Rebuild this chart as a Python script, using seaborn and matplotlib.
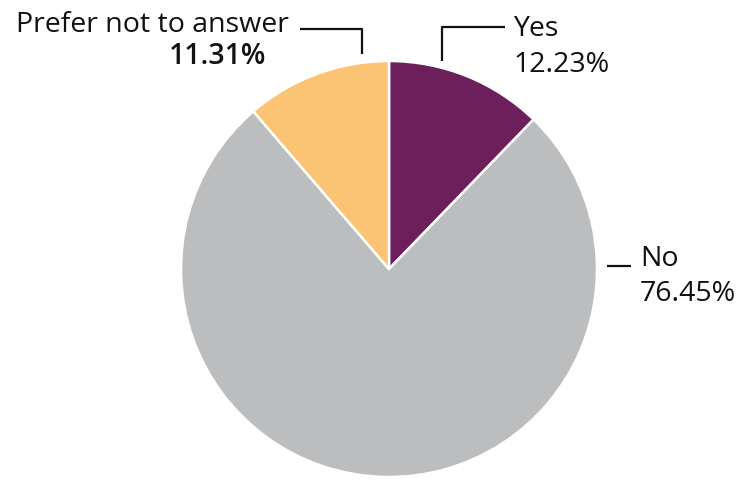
import matplotlib
matplotlib.use("Agg")
import matplotlib.pyplot as plt
import seaborn as sns

# Survey responses
categories = ["Yes", "No", "Prefer not to answer"]
shares = [12.23, 76.45, 11.31]
colors = ["#6c1f5b", "#bcbdbf", "#fbc474"]

sns.set_theme(style="white")
plt.rcParams["font.family"] = ["Open Sans", "DejaVu Sans"]

W, H = 740, 481
fig = plt.figure(figsize=(W / 100, H / 100), dpi=100)
ax = fig.add_axes([0, 0, 1, 1])
ax.set_xlim(0, W)
ax.set_ylim(0, H)
ax.set_aspect("equal")
ax.axis("off")

cx, cy, r = 389, H - 270, 208
ax.pie(shares, colors=colors, startangle=90, counterclock=False,
       center=(cx, cy), radius=r,
       wedgeprops=dict(edgecolor="white", linewidth=1.8))
ax.set_xlim(0, W)
ax.set_ylim(0, H)

def y(p):
    return H - p

lc = "#111111"
fs = 20.5

# Prefer not to answer
ax.plot([300, 362, 362], [y(30), y(30), y(55)], color=lc, lw=1.6, solid_capstyle="butt")
ax.text(289, y(25), f"{categories[2]}", ha="right", va="center", fontsize=fs, color=lc)
ax.text(266, y(57), f"{shares[2]:.2f}%", ha="right", va="center", fontsize=fs,
        fontweight="semibold", color=lc)

# Yes
ax.plot([442, 442, 505], [y(62), y(28), y(28)], color=lc, lw=1.6, solid_capstyle="butt")
ax.text(513, y(29), categories[0], ha="left", va="center", fontsize=fs, color=lc)
ax.text(513, y(65), f"{shares[0]:.2f}%", ha="left", va="center", fontsize=fs, color=lc)

# No
ax.plot([607, 631], [y(267), y(267)], color=lc, lw=1.6, solid_capstyle="butt")
ax.text(640, y(259), categories[1], ha="left", va="center", fontsize=fs, color=lc)
ax.text(640, y(294), f"{shares[1]:.2f}%", ha="left", va="center", fontsize=fs, color=lc)

fig.savefig("out.png", dpi=100, facecolor="white")
